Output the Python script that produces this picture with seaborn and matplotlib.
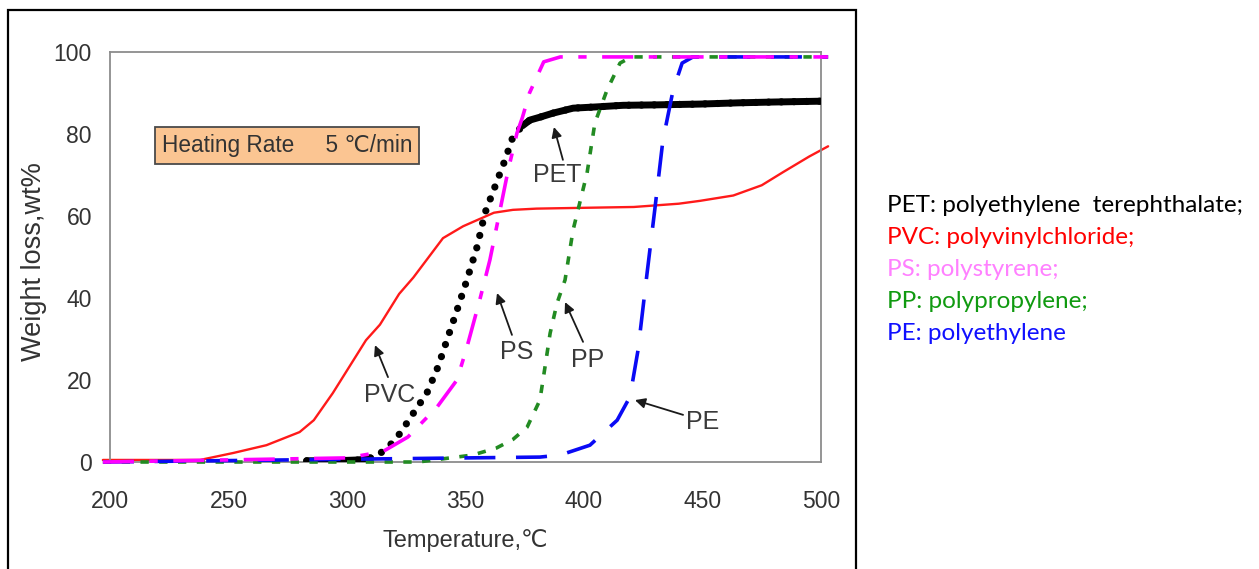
import matplotlib
matplotlib.use('Agg')
import matplotlib.pyplot as plt
import seaborn as sns
import pandas as pd
from matplotlib.patches import Rectangle

# --- data ---
T_pvc = [197, 238, 252, 266, 280, 286, 294, 308, 313.9, 322, 328, 340.5, 349, 354.9, 362, 370, 380, 400, 421, 440, 449, 463, 475, 484, 495, 503]
W_pvc = [0.5, 0.5, 2.2, 4.1, 7.3, 10.2, 16.8, 29.7, 33.5, 41, 45, 54.6, 57.5, 59, 60.8, 61.5, 61.8, 62, 62.2, 63, 63.7, 65, 67.5, 70.7, 74.5, 77]

T_pet = [283, 295, 305, 310, 314, 318, 322.4, 328, 333.7, 338.4, 342.2, 346.4, 350.6, 354.9, 358.2, 362.4, 366.7, 370, 374, 377.2, 381.4, 387, 395.4, 405, 416.5, 430, 449, 465, 480, 500]
W_pet = [0.3, 0.3, 0.5, 1.0, 2.1, 4.0, 7.0, 11.9, 16.8, 23.2, 29.8, 37, 44.4, 52.5, 60.7, 67.1, 73.7, 79.3, 82, 83.4, 84.1, 85.1, 86.3, 86.6, 87, 87.1, 87.3, 87.6, 87.8, 88]

T_ps = [197, 300, 315, 325.7, 338, 346.4, 350.6, 356, 360.3, 364.6, 368, 371.7, 374, 377, 383, 390, 420, 460, 503]
W_ps = [0, 1.0, 2.5, 6.1, 13.4, 20, 28, 39.5, 49.3, 61.5, 71.2, 80.2, 84, 90, 97.6, 98.8, 98.8, 98.8, 98.8]

T_pp = [197, 330, 353, 363, 370, 376, 381.4, 383.5, 385.7, 388.6, 392, 395.4, 401.3, 404.6, 409.7, 415.2, 420, 460, 503]
W_pp = [0, 0, 1.7, 3.4, 5.5, 8.5, 15.1, 23, 31.4, 38.7, 44.4, 56.6, 70.5, 82.7, 90.7, 97.3, 98.8, 98.8, 98.8]

T_pe = [197, 381.4, 390, 402.5, 414, 419.4, 422.8, 426.6, 430, 433.3, 437.6, 441.4, 446, 470, 503]
W_pe = [0, 1.2, 1.7, 4.1, 10.2, 15.9, 27.3, 46, 62.2, 78.5, 90.7, 97.3, 98.8, 98.8, 98.8]

x_ticks = [200, 250, 300, 350, 400, 450, 500]
y_ticks = [0, 20, 40, 60, 80, 100]

legend_lines = ['PET: polyethylene  terephthalate;', 'PVC: polyvinylchloride;',
                'PS: polystyrene;', 'PP: polypropylene;', 'PE: polyethylene']
legend_colors = ['black', '#ff0000', '#ff80ff', '#109a10', '#1010ff']

sns.set_theme(style='white')
plt.rcParams['font.family'] = ['Liberation Sans', 'DejaVu Sans']

W, H = 1259, 569
fig = plt.figure(figsize=(W / 100, H / 100), dpi=100)
ax = fig.add_axes([110 / W, 107 / H, 711 / W, 410 / H])

# PVC
sns.lineplot(x=T_pvc, y=W_pvc, ax=ax, color='#ff1a1a', lw=1.7, clip_on=False, zorder=2)

# PET: dots in the steep part, merged dots (solid) where flat
pet = pd.DataFrame({'T': T_pet, 'W': W_pet})
sns.lineplot(data=pet, x='T', y='W', ax=ax, color='black', lw=5.2,
             linestyle=(0, (0.01, 1.75)), dash_capstyle='round', zorder=3)
for part in (pet[pet['T'] <= 312], pet[pet['T'] >= 373]):
    sns.lineplot(data=part, x='T', y='W', ax=ax, color='black', lw=5.0,
                 solid_capstyle='round', zorder=3)

# PP, PE, PS
sns.lineplot(x=T_pp, y=W_pp, ax=ax, color='#228b22', lw=2.6, clip_on=False,
             linestyle=(0, (2.3, 2.9)), zorder=4)
sns.lineplot(x=T_pe, y=W_pe, ax=ax, color='#0a0af5', lw=2.6, clip_on=False,
             linestyle=(0, (8.6, 5.7)), zorder=4)
sns.lineplot(x=T_ps, y=W_ps, ax=ax, color='#ff00ff', lw=2.6, clip_on=False,
             linestyle=(0, (8.6, 4.3, 2.3, 4.3)), zorder=5)

ax.set_xlim(200, 500)
ax.set_ylim(0, 100)
ax.set_xticks(x_ticks)
ax.set_yticks(y_ticks)
for s in ax.spines.values():
    s.set_color('#8c8c8c')
    s.set_linewidth(1.3)
ax.tick_params(direction='in', length=4, width=1, color='#8c8c8c',
               labelsize=16.5, labelcolor='#333333')
ax.tick_params(axis='y', pad=13)
ax.tick_params(axis='x', pad=20)

ax.set_xlabel('Temperature,℃', fontsize=17, color='#333333')
ax.xaxis.set_label_coords(0.5, -0.163)
ax.set_ylabel('Weight loss,wt%', fontsize=19.5, color='#333333', va='center')
ax.yaxis.set_label_coords(-0.107, 0.49)

ax.text(274.7, 77.2, 'Heating Rate     5 ℃/min', ha='center', va='center',
        fontsize=16.3, color='#333333', zorder=6,
        bbox=dict(boxstyle='square,pad=0.3', fc='#fbc592', ec='#4a4a4a', lw=1.3))

# curve labels with arrows: (label, text pos, arrow tail, arrow head)
notes = [
    ('PVC', (318.1, 16.3), (317.3, 20.7), (311.8, 28.5)),
    ('PET', (388.6, 70.0), (391.1, 73.7), (387.3, 81.7)),
    ('PS', (371.7, 26.8), (369.6, 31.0), (363.3, 41.2)),
    ('PP', (401.7, 24.9), (399.6, 29.3), (392.0, 39.0)),
    ('PE', (450.2, 9.8), (441.8, 11.5), (421.5, 15.1)),
]
for label, tpos, tail, head in notes:
    ax.annotate('', xy=head, xytext=tail, zorder=7,
                arrowprops=dict(arrowstyle='-|>', color='#1a1a1a', lw=1.3,
                                mutation_scale=15, shrinkA=0, shrinkB=0))
    ax.text(tpos[0], tpos[1], label, ha='center', va='center',
            fontsize=18, color='#3a3a3a', zorder=7)

# outer frame around the chart image
fig.add_artist(Rectangle((8 / W, -0.02), (856 - 8) / W, 1.02 - 10 / H,
                         transform=fig.transFigure, fill=False, ec='black', lw=1.6))

# colored key on the right
for i, (txt, col) in enumerate(zip(legend_lines, legend_colors)):
    fig.text(887 / W, 1 - (205 + 32 * i) / H, txt, color=col, fontsize=17.5,
             family=['Lato', 'DejaVu Sans'], ha='left', va='center')

fig.savefig('out.png', dpi=100)
